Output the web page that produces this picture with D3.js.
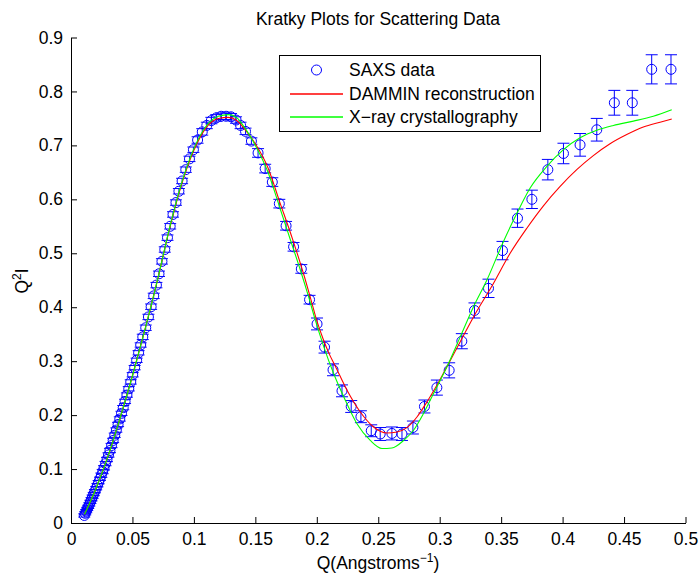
<!DOCTYPE html>
<html>
<head>
<meta charset="utf-8">
<script src="https://cdn.jsdelivr.net/npm/d3@7"></script>
<style>
  html, body { margin: 0; padding: 0; background: #fff; }
  svg { display: block; }
  text { font-family: "Liberation Sans", Arial, Helvetica, sans-serif; }
</style>
</head>
<body>
<svg id="chart" width="699" height="575"></svg>
<script>
// ---------- data ----------
const saxsQ = [
  0.0108, 0.0116, 0.0124, 0.0132, 0.0140, 0.0149, 0.0158, 0.0167, 0.0176, 0.0185,
  0.0195, 0.0205, 0.0215, 0.0225, 0.0236, 0.0247, 0.0258, 0.0269, 0.0281, 0.0293,
  0.0305, 0.0317, 0.0330, 0.0343, 0.0356, 0.0369, 0.0383, 0.0397, 0.0411, 0.0425,
  0.0440, 0.0455, 0.0470, 0.0486, 0.0502, 0.0518, 0.0534, 0.0550, 0.0567,
  0.0584, 0.0608, 0.0630, 0.0652, 0.0673, 0.0695, 0.0716, 0.0740, 0.0763, 0.0785,
  0.0807, 0.0830, 0.0854, 0.0878, 0.0904, 0.0934, 0.0964, 0.0996, 0.1030, 0.1068,
  0.1105, 0.1142, 0.1182, 0.1222, 0.1262, 0.1302, 0.1343, 0.1380, 0.1420, 0.1468,
  0.1522, 0.1580, 0.1638, 0.1695, 0.1750, 0.1811, 0.1874, 0.1941, 0.2002, 0.2063,
  0.2132, 0.2205, 0.2280, 0.2359, 0.2443, 0.2516, 0.2611, 0.2693, 0.2782, 0.2876,
  0.2977, 0.3077, 0.3180, 0.3283, 0.3397, 0.3511, 0.3633, 0.3750, 0.3880, 0.4007,
  0.4142, 0.4278, 0.4421, 0.4567, 0.4725, 0.4882
];
const saxsI = [
  0.0140, 0.0180, 0.0220, 0.0260, 0.0299, 0.0344, 0.0391, 0.0440, 0.0488, 0.0537,
  0.0590, 0.0644, 0.0700, 0.0757, 0.0820, 0.0886, 0.0953, 0.1023, 0.1101, 0.1177,
  0.1261, 0.1344, 0.1436, 0.1530, 0.1627, 0.1723, 0.1826, 0.1929, 0.2032, 0.2138,
  0.2254, 0.2372, 0.2488, 0.2615, 0.2748, 0.2880, 0.3016, 0.3155, 0.3300,
  0.345, 0.362, 0.382, 0.401, 0.421, 0.441, 0.462, 0.485, 0.507, 0.529,
  0.550, 0.572, 0.594, 0.615, 0.634, 0.655, 0.675, 0.692, 0.710, 0.725,
  0.737, 0.746, 0.751, 0.754, 0.754, 0.753, 0.747, 0.737, 0.726, 0.708,
  0.686, 0.657, 0.632, 0.592, 0.551, 0.512, 0.471, 0.414, 0.369, 0.326,
  0.284, 0.245, 0.216, 0.197, 0.171, 0.165, 0.166, 0.165, 0.177, 0.216,
  0.251, 0.283, 0.337, 0.394, 0.435, 0.505, 0.565, 0.600, 0.655, 0.685,
  0.701, 0.729, 0.779, 0.779, 0.841, 0.841
];
const saxsErr = [
  0.003, 0.003, 0.003, 0.003, 0.003, 0.003, 0.003, 0.003, 0.003, 0.003,
  0.003, 0.003, 0.003, 0.003, 0.003, 0.004, 0.004, 0.004, 0.004, 0.004,
  0.004, 0.004, 0.004, 0.004, 0.004, 0.004, 0.004, 0.004, 0.004, 0.004,
  0.004, 0.004, 0.004, 0.004, 0.004, 0.004, 0.004, 0.004, 0.004,
  0.005, 0.005, 0.005, 0.005, 0.005, 0.005, 0.005, 0.005, 0.005, 0.005,
  0.005, 0.005, 0.005, 0.005, 0.005, 0.005, 0.005, 0.005, 0.006, 0.006,
  0.006, 0.006, 0.006, 0.006, 0.006, 0.006, 0.006, 0.006, 0.006, 0.006,
  0.008, 0.008, 0.008, 0.008, 0.008, 0.008, 0.008, 0.008, 0.011, 0.011,
  0.011, 0.011, 0.011, 0.011, 0.011, 0.012, 0.012, 0.012, 0.012, 0.012,
  0.014, 0.014, 0.014, 0.014, 0.017, 0.017, 0.017, 0.017, 0.019, 0.019,
  0.021, 0.021, 0.023, 0.023, 0.027, 0.027
];

const damminQ = [
  0.011, 0.02, 0.03, 0.04, 0.05, 0.06, 0.07, 0.08, 0.09, 0.10,
  0.11, 0.12, 0.128, 0.135, 0.14, 0.15, 0.16, 0.17, 0.18, 0.19,
  0.195, 0.2, 0.205, 0.21, 0.215, 0.2246, 0.2354, 0.2462, 0.2571, 0.2652,
  0.2733, 0.2815, 0.2896, 0.2977, 0.3058, 0.3167, 0.3275, 0.3437, 0.3573, 0.3709,
  0.3844, 0.398, 0.4115, 0.425, 0.4386, 0.4522, 0.4657, 0.4793, 0.4888
];
const damminI = [
  0.016, 0.062, 0.123, 0.195, 0.273, 0.357, 0.447, 0.544, 0.628, 0.691,
  0.733, 0.750, 0.752, 0.746, 0.734, 0.703, 0.660, 0.594, 0.528, 0.456,
  0.416, 0.375, 0.342, 0.314, 0.291, 0.2461, 0.2058, 0.178, 0.1669, 0.1687,
  0.1768, 0.1965, 0.2244, 0.2554, 0.2894, 0.336, 0.382, 0.444, 0.500, 0.5465,
  0.588, 0.624, 0.655, 0.681, 0.703, 0.720, 0.734, 0.743, 0.749
];

const xrayQ = [
  0.011, 0.02, 0.03, 0.04, 0.05, 0.06, 0.07, 0.08, 0.09, 0.10,
  0.11, 0.12, 0.128, 0.135, 0.14, 0.15, 0.16, 0.17, 0.1785, 0.1866,
  0.1933, 0.1988, 0.2055, 0.2137, 0.2232, 0.2327, 0.2435, 0.253, 0.2611, 0.2706,
  0.2787, 0.2868, 0.295, 0.3058, 0.3167, 0.3275, 0.3384, 0.3519, 0.3628, 0.3736,
  0.3872, 0.4007, 0.4142, 0.4278, 0.4413, 0.4576, 0.4738, 0.4888
];
const xrayI = [
  0.016, 0.062, 0.123, 0.195, 0.273, 0.357, 0.447, 0.545, 0.630, 0.694,
  0.736, 0.754, 0.757, 0.751, 0.737, 0.700, 0.652, 0.584, 0.525, 0.469,
  0.4195, 0.376, 0.328, 0.277, 0.2276, 0.184, 0.153, 0.138, 0.139, 0.153,
  0.172, 0.203, 0.240, 0.289, 0.345, 0.401, 0.4505, 0.522, 0.574, 0.621,
  0.661, 0.692, 0.714, 0.728, 0.737, 0.745, 0.754, 0.766
];

const xTicks = [0, 0.05, 0.1, 0.15, 0.2, 0.25, 0.3, 0.35, 0.4, 0.45, 0.5];
const yTicks = [0, 0.1, 0.2, 0.3, 0.4, 0.5, 0.6, 0.7, 0.8, 0.9];
const legendLabels = ["SAXS data", "DAMMIN reconstruction", "X\u2212ray crystallography"];
const titleText = "Kratky Plots for Scattering Data";

// ---------- layout ----------
const svg = d3.select("#chart");
const FS = 17.5;
const x = d3.scaleLinear().domain([0, 0.5]).range([71, 685.5]);
const y = d3.scaleLinear().domain([0, 0.9]).range([523, 37.5]);

const BLUE = "#0000ff", RED = "#ff0000", GREEN = "#00ff00";

// axes
const fmt = d => (d === 0 ? "0" : d3.format("~g")(d));
const xAxis = d3.axisBottom(x).tickValues(xTicks).tickFormat(fmt)
  .tickSizeInner(-6).tickSizeOuter(0).tickPadding(10);
const yAxis = d3.axisLeft(y).tickValues(yTicks).tickFormat(fmt)
  .tickSizeInner(-6).tickSizeOuter(0).tickPadding(8);

const gx = svg.append("g").attr("transform", `translate(0,${y(0)})`).call(xAxis);
const gy = svg.append("g").attr("transform", `translate(${x(0)},0)`).call(yAxis);
[gx, gy].forEach(g => {
  g.selectAll("text").attr("font-size", FS).attr("fill", "#000")
    .attr("font-family", "Liberation Sans, Arial, Helvetica, sans-serif");
  g.selectAll("path, line").attr("stroke", "#000");
});

// data
const pts = saxsQ.map((q, i) => ({ q, v: saxsI[i], e: saxsErr[i] }));
const gData = svg.append("g");
const capW = 6;
const eb = gData.selectAll("g.eb").data(pts).join("g").attr("class", "eb")
  .attr("stroke", BLUE).attr("stroke-width", 1).attr("fill", "none");
eb.append("line")
  .attr("x1", d => x(d.q)).attr("x2", d => x(d.q))
  .attr("y1", d => y(d.v - d.e)).attr("y2", d => y(d.v + d.e));
eb.append("line")
  .attr("x1", d => x(d.q) - capW).attr("x2", d => x(d.q) + capW)
  .attr("y1", d => y(d.v - d.e)).attr("y2", d => y(d.v - d.e));
eb.append("line")
  .attr("x1", d => x(d.q) - capW).attr("x2", d => x(d.q) + capW)
  .attr("y1", d => y(d.v + d.e)).attr("y2", d => y(d.v + d.e));
gData.selectAll("circle").data(pts).join("circle")
  .attr("cx", d => x(d.q)).attr("cy", d => y(d.v)).attr("r", 5)
  .attr("fill", "none").attr("stroke", BLUE).attr("stroke-width", 1);

// model curves
const line = d3.line().x(d => x(d[0])).y(d => y(d[1])).curve(d3.curveMonotoneX);
svg.append("path").datum(damminQ.map((q, i) => [q, damminI[i]]))
  .attr("d", line).attr("fill", "none").attr("stroke", RED).attr("stroke-width", 1.1);
svg.append("path").datum(xrayQ.map((q, i) => [q, xrayI[i]]))
  .attr("d", line).attr("fill", "none").attr("stroke", GREEN).attr("stroke-width", 1.1);

// title
svg.append("text").attr("x", 378).attr("y", 25).attr("text-anchor", "middle")
  .attr("font-size", FS).attr("fill", "#000").text(titleText);

// x label
const xl = svg.append("text").attr("x", 378).attr("y", 569).attr("text-anchor", "middle")
  .attr("font-size", FS).attr("fill", "#000");
xl.append("tspan").text("Q(Angstroms");
xl.append("tspan").attr("dy", -7).attr("font-size", 12).text("\u22121");
xl.append("tspan").attr("dy", 7).text(")");

// y label
const yl = svg.append("text").attr("transform", "translate(28,281) rotate(-90)")
  .attr("text-anchor", "middle").attr("font-size", FS).attr("fill", "#000");
yl.append("tspan").text("Q");
yl.append("tspan").attr("dy", -7).attr("font-size", 12).text("2");
yl.append("tspan").attr("dy", 7).text("I");

// legend
const lg = svg.append("g");
lg.append("rect").attr("x", 279.5).attr("y", 55.5).attr("width", 261).attr("height", 76)
  .attr("fill", "#fff").attr("stroke", "#000").attr("stroke-width", 1);
const rowsY = [70, 94, 117];
lg.append("circle").attr("cx", 316.5).attr("cy", rowsY[0]).attr("r", 5)
  .attr("fill", "none").attr("stroke", BLUE);
lg.append("line").attr("x1", 290).attr("x2", 343).attr("y1", rowsY[1]).attr("y2", rowsY[1])
  .attr("stroke", RED).attr("stroke-width", 1.6);
lg.append("line").attr("x1", 290).attr("x2", 343).attr("y1", rowsY[2]).attr("y2", rowsY[2])
  .attr("stroke", GREEN).attr("stroke-width", 1.6);
lg.selectAll("text.lab").data(legendLabels).join("text").attr("class", "lab")
  .attr("x", 349).attr("y", (d, i) => rowsY[i]).attr("dy", "0.35em")
  .attr("font-size", FS).attr("fill", "#000").text(d => d);
</script>
</body>
</html>
